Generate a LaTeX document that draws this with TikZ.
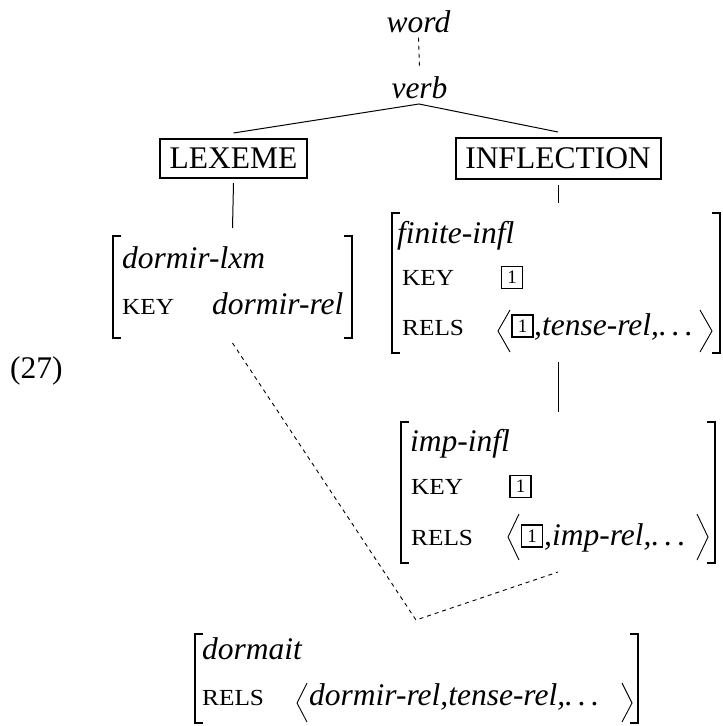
\documentclass[tikz,border=0pt]{standalone}
\usepackage{fontspec}
\setmainfont{Liberation Serif}[ItalicFont={Liberation Serif Italic}]
\newfontfamily\scfam[FakeStretch=1.1]{Liberation Serif}
\begin{document}
\begin{tikzpicture}[x=1pt,y=-1pt,
  lbl/.style={inner sep=0pt, anchor=base, font=\fontsize{31.5}{36}\selectfont\itshape},
  avmtxt/.style={inner sep=0pt, anchor=base west, font=\fontsize{31.5}{36}\selectfont\itshape},
  feat/.style={inner sep=0pt, anchor=base west, font=\scfam\fontsize{23}{26}\selectfont},
  tagbox/.style={draw, line width=1.8pt, inner sep=0pt, outer sep=0pt, minimum width=21pt, minimum height=22pt, font=\fontsize{19}{20}\selectfont},
  typebox/.style={draw, line width=2pt, inner sep=0pt, outer sep=0pt, font=\fontsize{31.5}{36}\selectfont},
  avm/.style={inner sep=0pt, outer sep=0pt},
  brk/.style={line width=1.2pt},
  angl/.style={line width=0.9pt},
  tree/.style={line width=1pt},
  dsh/.style={dashed, dash pattern=on 4pt off 4pt, line width=0.9pt}]
\useasboundingbox (0,0) rectangle (723,726);

% top of the tree
\node[lbl] (word) at (418.5,32) {word};
\node[lbl] (verb) at (419.5,98) {verb};
\coordinate (apex) at (419,104);
\node[typebox, minimum width=147pt, minimum height=39pt] (lex) at (233.5,158.5) {LEXEME};
\node[typebox, minimum width=205pt, minimum height=41pt] (infl) at (558,158.5) {INFLECTION};

\draw[dsh] ([yshift=-5pt]word.south) -- ([yshift=6.5pt]verb.north);
\draw[tree] ([yshift=6pt]lex.north) -- (apex) -- ([yshift=6pt]infl.north);

% AVM frames
\node[avm, minimum width=239pt, minimum height=102pt] (lxm) at (232.5,287) {};
\node[avm, minimum width=328pt, minimum height=140pt] (fin) at (556,283) {};
\node[avm, minimum width=314pt, minimum height=141pt] (imp) at (558,492.5) {};
\node[avm, minimum width=443pt, minimum height=89pt] (dmt) at (416.5,678.5) {};

\foreach \n in {lxm,fin,imp,dmt}{
  \draw[brk] ([xshift=8pt]\n.north west) -- (\n.north west) -- (\n.south west) -- ([xshift=8pt]\n.south west);
  \draw[brk] ([xshift=-8pt]\n.north east) -- (\n.north east) -- (\n.south east) -- ([xshift=-8pt]\n.south east);
}

% dormir-lxm
\node[avmtxt] (lxmtype) at (122,268) {dormir-lxm};
\node[feat] (lxmkey) at (122,314) {KEY};
\node[avmtxt] (lxmkeyv) at (212,314) {dormir-rel};

% finite-infl
\node[avmtxt] (fintype) at (397,243) {finite-infl};
\node[feat] (finkey) at (402,285) {KEY};
\node[tagbox] (fintag) at (512,277.5) {1};
\node[feat] (finrels) at (402,335) {RELS};
\node[tagbox] (fintagb) at (522.5,326) {1};
\node[avmtxt] (finlist) at (534,335) {,tense-rel,.\,.\,.};
\draw[angl] (510,310) -- (498,331) -- (510,352);
\draw[angl] (700,310) -- (712,331) -- (700,352);

% imp-infl
\node[avmtxt] (imptype) at (410,451) {imp-infl};
\node[feat] (impkey) at (411,494) {KEY};
\node[tagbox] (imptag) at (520.5,486.5) {1};
\node[feat] (imprels) at (411,545) {RELS};
\node[tagbox] (imptagb) at (532,536) {1};
\node[avmtxt] (implist) at (544,545) {,imp-rel,.\,.\,.};
\draw[angl] (519,514) -- (508,537) -- (519,560);
\draw[angl] (697,514) -- (708,537) -- (697,560);

% dormait
\node[avmtxt] (dmttype) at (202,659) {dormait};
\node[feat] (dmtrels) at (202,705) {RELS};
\node[avmtxt] (dmtlist) at (309,705) {dormir-rel,tense-rel,.\,.\,.};
\draw[angl] (307,683) -- (297,703) -- (307,722);
\draw[angl] (622,683) -- (632,703) -- (622,722);

% connectors
\draw[tree] ([yshift=-5pt]lex.south) -- ([yshift=8pt]lxm.north);
\draw[tree] ([yshift=-6pt]infl.south) -- ([yshift=10pt]infl.south |- fin.north);
\draw[tree] ([yshift=-9pt]imp.north |- fin.south) -- ([yshift=10pt]imp.north);
\coordinate (join) at (416,620);
\draw[dsh] ([yshift=-5pt]lxm.south) -- (join) -- ([yshift=-9pt]imp.south);

% example number
\node[inner sep=0pt, anchor=base west, font=\fontsize{31.5}{36}\selectfont] (num) at (10,378) {(27)};
\end{tikzpicture}
\end{document}
